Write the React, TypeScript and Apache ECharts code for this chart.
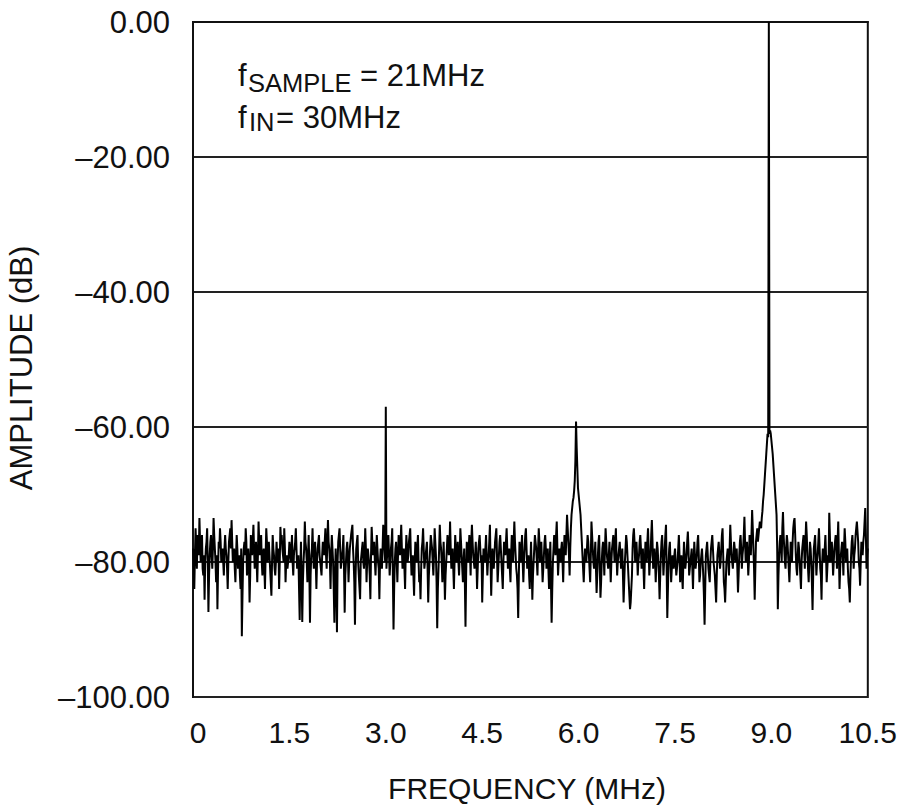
import React, { useEffect, useRef } from "react";
import * as echarts from "echarts";

const FONT = '"Liberation Sans", Arial, Helvetica, sans-serif';

// FFT bin spacing of the trace (MHz); the "mid" arrays hold the bins half-way between
const binStepMHz = 0.02;

// tick values
const xTickValues = [0, 1.5, 3.0, 4.5, 6.0, 7.5, 9.0, 10.5];
const yTickValues = [0, -20, -40, -60, -80, -100];

// amplitude (dB), bins at k*0.02 MHz, 0.00 .. 1.48 MHz
const ampA = [
  -78, -84, -75, -81, -77, -73.5, -80, -76, -82, -85.6, -78, -75, -87.4, -79, -76, -81, -73.5, -78, -83, -87, -77, -75, -80, -78, -82,
  -76, -79, -84, -77, -75, -73.8, -80, -78, -83, -76, -81, -79, -84, -91, -80, -77, -75, -82, -78, -86, -76, -79, -74.5, -81, -77,
  -83, -74, -79, -76, -82, -78, -84, -75, -80, -77, -81, -85, -76, -79, -82, -77, -80, -84, -74.8, -76, -78, -75, -83, -79, -81,
];
// 1.50 .. 2.98 MHz
const ampB = [
  -77, -80, -76, -82, -78, -75, -81, -79, -88.6, -77, -88.9, -80, -74, -78, -83, -76, -89, -79, -75, -81, -77, -84, -78, -76, -80,
  -82, -77, -79, -75, -81, -73.8, -78, -84, -76, -80, -89, -78, -90.4, -77, -75, -81, -79, -76, -87.5, -80, -77, -83, -78, -76, -74.5,
  -80, -89.3, -78, -76, -82, -85.5, -79, -77, -81, -75, -83, -78, -80, -85.5, -74.8, -79, -77, -82, -76, -80, -85.5, -78, -81, -74.5, -78,
];
// 3.00 .. 4.48 MHz (spur at 3.0 MHz)
const ampC = [
  -57, -79, -76, -82, -78, -75, -90, -80, -77, -83, -76, -79, -74.5, -81, -78, -84, -76, -80, -77, -75, -82, -79, -85, -77, -80,
  -76, -83, -85.5, -78, -75, -81, -79, -77, -86, -80, -76, -78, -82, -75, -79, -89.8, -81, -74.5, -78, -83, -77, -85.6, -80, -76, -79,
  -74, -81, -78, -84, -76, -80, -77, -82, -75, -79, -83, -78, -89.6, -77, -80, -76, -82, -74.5, -79, -81, -77, -84, -78, -76, -80,
];
// 4.50 .. 5.98 MHz (spur near 6 MHz)
const ampD = [
  -86, -78, -80, -76, -82, -79, -74.5, -85, -78, -81, -77, -75, -83, -79, -76, -80, -84, -77, -79, -75, -81, -78, -83, -76, -80,
  -74, -79, -82, -88.3, -77, -80, -76, -83, -78, -75, -81, -79, -84, -77, -85.6, -80, -76, -78, -82, -75, -80, -77, -83, -79, -76,
  -81, -78, -84, -77, -89, -80, -76, -79, -74, -82, -78, -80, -77, -83, -76, -79, -73, -77, -82, -75, -72, -70.5, -68, -59.2, -66,
];
// 6.00 .. 7.48 MHz
const ampE = [
  -70, -72, -75, -79, -83, -78, -80, -76, -79, -83, -74, -78, -81, -77, -84.6, -79, -76, -85.3, -80, -77, -82, -75, -79, -81, -77,
  -83, -78, -76, -80, -75, -82, -79, -77, -81, -78, -86, -80, -76, -79, -83, -87, -86, -78, -75, -80, -77, -82, -79, -76, -81,
  -78, -84, -77, -80, -75, -82, -79, -73.8, -81, -78, -83, -77, -80, -85.5, -79, -76, -82, -78, -74.5, -88.3, -80, -77, -83, -79, -81,
];
// 7.50 .. 8.98 MHz (fundamental near 9 MHz)
const ampF = [
  -78, -82, -80, -76, -83, -79, -84, -77, -81, -79, -75.5, -82, -80, -78, -84, -77, -81, -79, -76, -83, -80, -78, -82, -89.3, -79,
  -77, -81, -83, -78, -76, -80, -82, -86, -79, -77, -81, -78, -75, -83, -86, -80, -78, -82, -74.5, -79, -81, -77, -80, -78, -84.5,
  -79, -76, -81, -78, -73.3, -80, -77, -82, -76, -79, -72.3, -78, -85.6, -77, -75, -76, -74, -75, -72.5, -70, -67, -64, -61, 0, -60.5,
];
// 9.00 .. 10.50 MHz
const ampG = [
  -62, -64, -67, -70, -73, -87, -79, -76, -80, -72.6, -78, -81, -76, -79, -83, -77, -80, -75, -73.5, -79, -82, -77, -80, -84, -78,
  -76, -81, -74, -79, -83, -77, -80, -87.1, -78, -76, -82, -79, -75, -81, -85.6, -78, -80, -76, -83, -79, -72.7, -80, -77, -82, -78,
  -76, -81, -74, -84, -79, -77, -82, -75, -80, -78, -83, -86, -79, -76, -81, -78, -75, -74, -80, -83.5, -77, -79, -76, -72, -81, -78,
];

// amplitude (dB) of the bins half-way between the ones above, (k+0.5)*0.02 MHz
const midA = [
  -80, -79, -78, -76, -79, -77, -78, -81, -79, -80, -77, -80, -82, -77, -79, -78, -76, -80, -79, -81, -78, -77, -79, -80, -78,
  -78, -81, -80, -76, -78, -77, -79, -81, -79, -78, -80, -82, -78, -85, -78, -79, -77, -80, -80, -82, -78, -77, -78, -79, -80,
  -79, -77, -78, -80, -79, -81, -79, -77, -78, -79, -83, -80, -78, -81, -80, -79, -78, -80, -77, -78, -80, -78, -80, -81, -79,
];
const midB = [
  -78, -79, -80, -79, -77, -78, -80, -84, -81, -82, -83, -78, -77, -80, -79, -81, -82, -78, -79, -78, -80, -80, -77, -79, -81,
  -79, -78, -77, -79, -77, -77, -80, -79, -78, -84, -82, -83, -80, -77, -78, -80, -78, -81, -82, -78, -79, -80, -77, -76, -78,
  -83, -82, -77, -80, -82, -80, -78, -80, -79, -78, -80, -79, -82, -79, -77, -78, -80, -79, -78, -81, -80, -80, -78, -77, -80,
];
const midC = [
  -81, -78, -79, -80, -77, -82, -84, -78, -80, -79, -78, -77, -78, -80, -81, -79, -78, -79, -76, -79, -81, -82, -80, -79, -78,
  -80, -82, -81, -77, -78, -80, -78, -81, -82, -78, -77, -80, -79, -77, -83, -84, -78, -77, -80, -80, -81, -82, -78, -77, -78,
  -78, -79, -81, -80, -78, -79, -80, -79, -77, -81, -80, -83, -82, -78, -78, -79, -77, -77, -80, -79, -80, -81, -77, -78, -79,
];
const midD = [
  -82, -79, -78, -79, -80, -77, -80, -81, -80, -79, -76, -79, -81, -77, -78, -82, -80, -78, -77, -78, -80, -81, -79, -78, -77,
  -77, -81, -84, -82, -79, -78, -80, -80, -76, -78, -80, -82, -80, -81, -82, -78, -77, -80, -78, -77, -78, -80, -81, -77, -78,
  -79, -81, -80, -83, -84, -78, -77, -76, -78, -80, -79, -78, -80, -79, -77, -76, -75, -79, -78, -73, -71, -69.5, -65, -63, -69,
];
const midE = [
  -71, -73, -77, -81, -80, -79, -78, -77, -81, -79, -76, -80, -79, -81, -82, -77, -81, -83, -78, -79, -78, -77, -80, -79, -80,
  -80, -77, -78, -77, -79, -80, -78, -79, -80, -82, -83, -78, -77, -81, -85, -86, -82, -76, -77, -78, -79, -80, -77, -78, -79,
  -81, -80, -78, -77, -78, -80, -76, -77, -79, -80, -80, -78, -82, -82, -77, -79, -80, -76, -81, -84, -78, -80, -81, -80, -79,
];
const midF = [
  -80, -81, -78, -79, -81, -82, -80, -79, -80, -77, -78, -81, -79, -81, -80, -79, -80, -77, -79, -82, -79, -80, -85, -84, -78,
  -79, -82, -80, -77, -78, -81, -84, -82, -78, -79, -80, -76, -79, -84, -83, -79, -80, -78, -77, -80, -79, -78, -79, -81, -82,
  -77, -78, -79, -76, -77, -78, -79, -80, -77, -76, -75, -81, -81, -77, -77, -75, -74.5, -73.5, -71, -68.5, -65.5, -62.5, -61.5, -61, -61,
];
const midG = [
  -63, -65.5, -68.5, -71.5, -78, -82, -77, -78, -75, -76, -80, -78, -77, -81, -80, -78, -77, -74, -76, -81, -79, -78, -82, -80, -77,
  -78, -77, -76, -81, -80, -78, -83, -82, -77, -79, -80, -77, -78, -82, -80, -79, -78, -79, -81, -80, -76, -78, -79, -80, -77,
  -78, -77, -79, -81, -78, -79, -78, -77, -79, -81, -84, -82, -77, -78, -79, -76, -74, -77, -81, -80, -78, -77, -74, -76, -79,
];

export default function App() {
  const ref = useRef<HTMLDivElement>(null);

  useEffect(() => {
    if (!ref.current) return;
    const chart = echarts.init(ref.current, null, { renderer: "svg" });
    const amps = [...ampA, ...ampB, ...ampC, ...ampD, ...ampE, ...ampF, ...ampG];
    const mids = [...midA, ...midB, ...midC, ...midD, ...midE, ...midF, ...midG];
    const data: number[][] = [];
    amps.forEach((v, i) => {
      data.push([Math.round(i * binStepMHz * 1000) / 1000, v]);
      if (i < mids.length && i < amps.length - 1) {
        data.push([Math.round((i + 0.5) * binStepMHz * 1000) / 1000, mids[i]]);
      }
    });

    const txt = (text: string, x: number, y: number, size: number) => ({
      type: "text",
      x,
      y,
      silent: true,
      style: {
        text,
        font: `${size}px ${FONT}`,
        fill: "#111",
        textAlign: "left",
        textVerticalAlign: "middle",
      },
    });

    chart.setOption({
      animation: false,
      backgroundColor: "#fff",
      grid: {
        left: 193,
        top: 22,
        right: 32,
        bottom: 113,
        show: true,
        borderColor: "#111",
        borderWidth: 2,
        backgroundColor: "transparent",
      },
      xAxis: {
        type: "value",
        min: 0,
        max: 10.5,
        interval: 1.5,
        axisLine: { show: true, lineStyle: { color: "#111", width: 2 } },
        axisTick: { show: false },
        splitLine: { show: false },
        axisLabel: {
          margin: 20,
          color: "#111",
          fontSize: 30,
          fontFamily: FONT,
          customValues: xTickValues,
          formatter: (v: number) => (v === 0 ? "{z|0}" : v.toFixed(1)),
          rich: {
            z: { fontSize: 30, fontFamily: FONT, color: "#111", padding: [0, 0, 0, 10] },
          },
        },
      },
      yAxis: {
        type: "value",
        min: -100,
        max: 0,
        interval: 20,
        axisLine: { show: true, lineStyle: { color: "#111", width: 2 } },
        axisTick: { show: false },
        splitLine: { show: true, lineStyle: { color: "#222", width: 2 } },
        axisLabel: {
          margin: 23,
          color: "#111",
          fontSize: 31,
          fontFamily: FONT,
          customValues: yTickValues,
          formatter: (v: number) => (v < 0 ? "\u2013" : "") + Math.abs(v).toFixed(2),
        },
      },
      series: [
        {
          type: "line",
          data,
          showSymbol: false,
          symbol: "none",
          lineStyle: { color: "#000", width: 2, join: "bevel" },
          z: 5,
        },
      ],
      graphic: [
        txt("f", 238, 75, 31),
        txt("SAMPLE", 248, 83, 25.5),
        txt("= 21MHz", 360, 75, 31),
        txt("f", 238, 117, 31),
        txt("IN", 249, 122, 25.5),
        txt("= 30MHz", 276, 117, 31),
        {
          type: "text",
          x: 527,
          y: 788,
          silent: true,
          style: {
            text: "FREQUENCY (MHz)",
            font: `30px ${FONT}`,
            fill: "#111",
            textAlign: "center",
            textVerticalAlign: "middle",
          },
        },
        {
          type: "text",
          x: 21,
          y: 368,
          rotation: Math.PI / 2,
          silent: true,
          style: {
            text: "AMPLITUDE (dB)",
            font: `31px ${FONT}`,
            fill: "#111",
            textAlign: "center",
            textVerticalAlign: "middle",
          },
        },
      ],
    });

    return () => chart.dispose();
  }, []);

  return (
    <div
      ref={ref}
      style={{ position: "fixed", left: 0, top: 0, width: 900, height: 810, background: "#fff" }}
    />
  );
}
